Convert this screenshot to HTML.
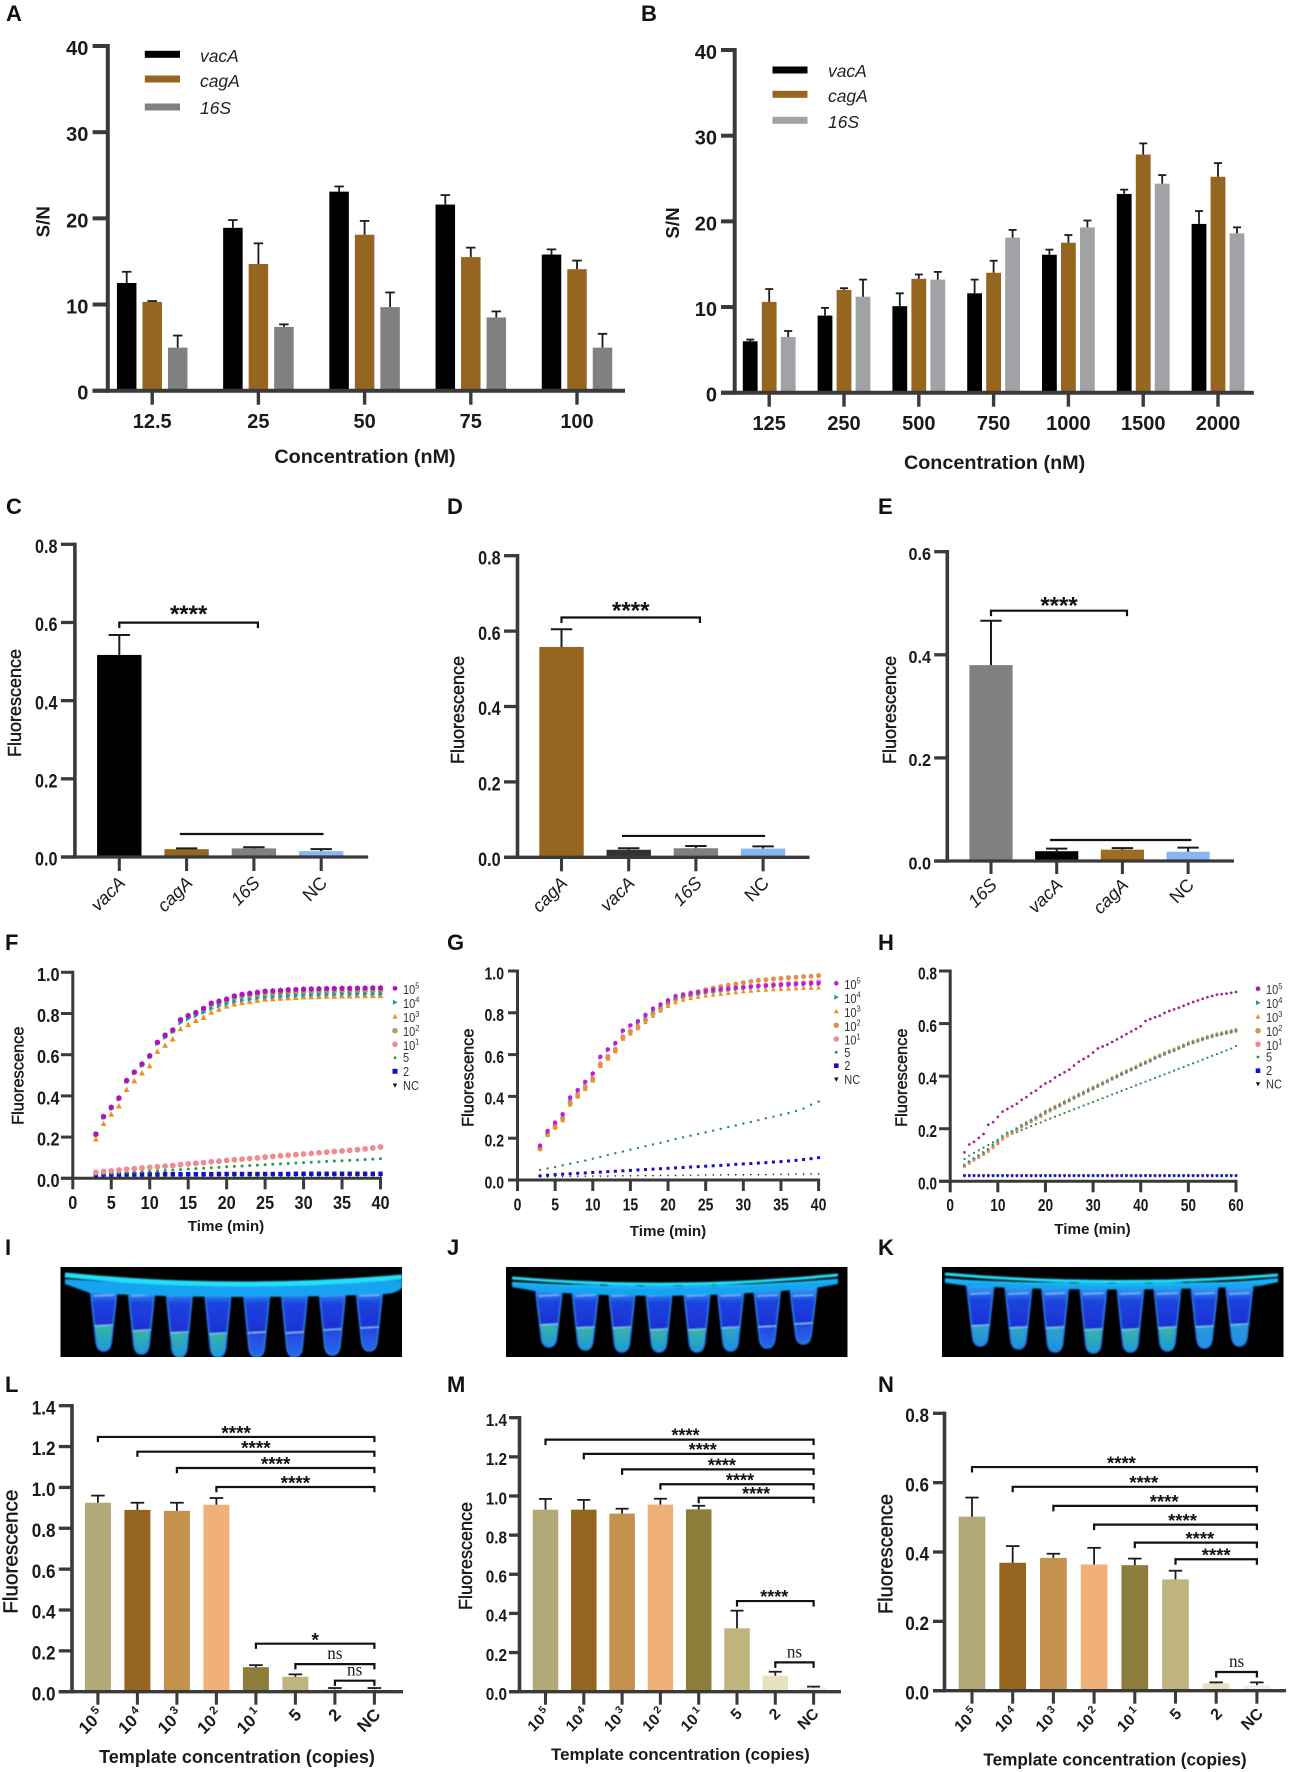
<!DOCTYPE html>
<html lang="en">
<head>
<meta charset="utf-8">
<title>Fluorescence assay figure</title>
<style>
html,body{margin:0;padding:0;background:#fff;}
#figure{display:block;position:absolute;left:0;top:0;font-family:"Liberation Sans",sans-serif;}
.pl{font:bold 22px "Liberation Sans",sans-serif;fill:#111;}
.xt{font-family:"Liberation Sans",sans-serif;font-weight:bold;fill:#1a1a1a;text-anchor:middle;}
.yt{font-family:"Liberation Sans",sans-serif;fill:#1a1a1a;text-anchor:middle;stroke:#1a1a1a;stroke-width:.45;}
.yb{font-family:"Liberation Sans",sans-serif;font-weight:bold;fill:#1a1a1a;text-anchor:middle;}
</style>
</head>
<body>
<svg id="figure" width="1290" height="1772" viewBox="0 0 1290 1772">
  <defs>
    <filter id="soft" x="-5%" y="-5%" width="110%" height="110%"><feGaussianBlur stdDeviation="0.9"/></filter>
  </defs>
  <rect width="1290" height="1772" fill="#fff"/>

  <g>
    <text class="pl" x="6" y="21">A</text>
    <text class="pl" x="641" y="21">B</text>
    <text class="pl" x="6" y="514">C</text>
    <text class="pl" x="447" y="514">D</text>
    <text class="pl" x="878" y="514">E</text>
    <text class="pl" x="5" y="950">F</text>
    <text class="pl" x="447" y="950">G</text>
    <text class="pl" x="878" y="950">H</text>
    <text class="pl" x="5" y="1255">I</text>
    <text class="pl" x="447" y="1255">J</text>
    <text class="pl" x="878" y="1255">K</text>
    <text class="pl" x="5" y="1392">L</text>
    <text class="pl" x="447" y="1392">M</text>
    <text class="pl" x="878" y="1392">N</text>
  </g>

  <g>
    <text class="xt" x="365" y="463" font-size="19.8">Concentration (nM)</text>
    <text class="yb" transform="translate(49.5,221.7) rotate(-90)" font-size="18.8">S/N</text>
    <text class="xt" x="994.6" y="469" font-size="19.8">Concentration (nM)</text>
    <text class="yb" transform="translate(679,223) rotate(-90)" font-size="18.8">S/N</text>
    <text class="yt" transform="translate(21,703) rotate(-90)" font-size="18">Fluorescence</text>
    <text class="yt" transform="translate(464,710) rotate(-90)" font-size="18">Fluorescence</text>
    <text class="yt" transform="translate(896,710) rotate(-90)" font-size="18">Fluorescence</text>
    <text class="xt" x="226" y="1231" font-size="15.2">Time (min)</text>
    <text class="yt" transform="translate(23.5,1075.7) rotate(-90)" font-size="16.4">Fluorescence</text>
    <text class="xt" x="668" y="1236" font-size="15.2">Time (min)</text>
    <text class="yt" transform="translate(473.5,1077.7) rotate(-90)" font-size="16.4">Fluorescence</text>
    <text class="xt" x="1092.5" y="1234" font-size="15.2">Time (min)</text>
    <text class="yt" transform="translate(907,1077.7) rotate(-90)" font-size="16.4">Fluorescence</text>
    <text class="xt" x="237" y="1763" font-size="18">Template concentration (copies)</text>
    <text class="yt" transform="translate(17.5,1551.7) rotate(-90)" font-size="20.7">Fluorescence</text>
    <text class="xt" x="680.4" y="1760" font-size="16.9">Template concentration (copies)</text>
    <text class="yt" transform="translate(472,1556) rotate(-90)" font-size="18">Fluorescence</text>
    <text class="xt" x="1115" y="1765.7" font-size="17.2">Template concentration (copies)</text>
    <text class="yt" transform="translate(892.6,1554) rotate(-90)" font-size="20">Fluorescence</text>
  </g>
  <g id="plots"></g>
</svg>

<script>
/* ---------- Panel A ---------- */
const aCategories = ['12.5','25','50','75','100'];
const aYTicks = ['0','10','20','30','40'];
const aVacA = [12.5,18.9,23.1,21.6,15.8];
const aVacATop = [13.8,19.8,23.7,22.7,16.4];
const aCagA = [10.3,14.7,18.1,15.5,14.1];
const aCagATop = [10.4,17.1,19.7,16.6,15.1];
const a16S = [5.0,7.4,9.7,8.5,5.0];
const a16STop = [6.4,7.7,11.4,9.2,6.6];

/* ---------- Panel B ---------- */
const bCategories = ['125','250','500','750','1000','1500','2000'];
const bYTicks = ['0','10','20','30','40'];
const bVacA = [6.0,9.0,10.1,11.6,16.1,23.2,19.7];
const bVacATop = [6.2,9.9,11.6,13.2,16.7,23.7,21.2];
const bCagA = [10.6,12.0,13.3,14.0,17.5,27.8,25.2];
const bCagATop = [12.1,12.2,13.8,15.4,18.4,29.1,26.8];
const b16S = [6.5,11.2,13.2,18.1,19.3,24.4,18.6];
const b16STop = [7.2,13.2,14.1,19.0,20.1,25.4,19.3];

/* ---------- Panels C, D, E ---------- */
const cCategories = ['vacA','cagA','16S','NC'];
const cYTicks = ['0.0','0.2','0.4','0.6','0.8'];
const cValues = [0.517,0.020,0.022,0.015];
const cTops = [0.568,0.022,0.025,0.020];
const dCategories = ['cagA','vacA','16S','NC'];
const dYTicks = ['0.0','0.2','0.4','0.6','0.8'];
const dValues = [0.558,0.020,0.024,0.023];
const dTops = [0.605,0.024,0.030,0.029];
const eCategories = ['16S','vacA','cagA','NC'];
const eYTicks = ['0.0','0.2','0.4','0.6'];
const eValues = [0.380,0.019,0.022,0.018];
const eTops = [0.466,0.024,0.025,0.026];

/* ---------- Time-course panels shared ---------- */
const seriesNames = ['1e5','1e4','1e3','1e2','1e1','5','2','NC'];
const legendBase = ['10','10','10','10','10','5','2','NC'];
const legendSup = ['5','4','3','2','1','','',''];
const timeYTicksFG = ['0.0','0.2','0.4','0.6','0.8','1.0'];
const timeXTicksFG = [0,5,10,15,20,25,30,35,40];
const timeYTicksH = ['0.0','0.2','0.4','0.6','0.8'];
const timeXTicksH = [0,10,20,30,40,50,60];

/* ---------- Panel F ---------- */
const fTime = [3,4,5,6,7,8,9,10,11,12,13,14,15,16,17,18,19,20,21,22,23,24,25,26,27,28,29,30,31,32,33,34,35,36,37,38,39,40];
const f1e5 = [.215,.300,.345,.390,.475,.515,.555,.595,.660,.695,.720,.770,.790,.805,.825,.850,.860,.870,.885,.893,.898,.903,.908,.910,.912,.915,.916,.918,.919,.920,.921,.921,.922,.922,.923,.923,.924,.924];
const f1e4 = [.212,.297,.340,.385,.470,.512,.548,.590,.655,.685,.712,.755,.775,.790,.805,.825,.838,.848,.858,.865,.870,.875,.878,.881,.884,.886,.888,.889,.890,.891,.892,.893,.894,.894,.895,.895,.896,.896];
const f1e3 = [.190,.265,.310,.350,.430,.472,.510,.545,.615,.645,.675,.725,.745,.765,.780,.805,.820,.835,.845,.852,.858,.863,.868,.870,.873,.875,.877,.879,.880,.881,.882,.883,.884,.884,.885,.885,.886,.886];
const f1e2 = [.213,.298,.342,.388,.472,.515,.552,.592,.658,.690,.716,.765,.785,.800,.818,.842,.852,.862,.875,.882,.887,.892,.895,.897,.899,.901,.902,.904,.905,.906,.907,.908,.908,.909,.909,.910,.910,.911];
const f1e1 = [.028,.033,.036,.040,.044,.047,.050,.053,.056,.059,.062,.066,.070,.073,.076,.080,.083,.087,.090,.093,.096,.099,.103,.106,.109,.112,.115,.118,.121,.124,.127,.130,.133,.136,.139,.143,.147,.152];
const f5 = [.020,.022,.024,.026,.028,.030,.032,.034,.036,.038,.040,.042,.045,.047,.049,.051,.053,.056,.058,.060,.062,.064,.066,.068,.070,.072,.074,.076,.078,.080,.082,.084,.085,.087,.089,.091,.093,.095];
const f2 = [.017,.018,.018,.018,.019,.019,.019,.019,.019,.020,.020,.020,.020,.020,.020,.020,.021,.021,.021,.021,.021,.021,.021,.021,.021,.021,.022,.022,.022,.022,.022,.022,.022,.022,.022,.022,.022,.022];
const fNC = [.012,.012,.012,.013,.013,.013,.013,.013,.013,.013,.013,.014,.014,.014,.014,.014,.014,.014,.014,.014,.014,.014,.015,.015,.015,.015,.015,.015,.015,.015,.015,.015,.015,.015,.015,.015,.015,.015];

/* ---------- Panel G ---------- */
const gTime = [3,4,5,6,7,8,9,10,11,12,13,14,15,16,17,18,19,20,21,22,23,24,25,26,27,28,29,30,31,32,33,34,35,36,37,38,39,40];
const g1e5 = [.165,.235,.275,.315,.395,.430,.470,.510,.590,.625,.655,.715,.740,.760,.790,.820,.840,.860,.880,.888,.895,.900,.905,.910,.913,.916,.920,.922,.925,.928,.930,.932,.934,.936,.938,.940,.941,.942];
const g1e4 = [.160,.228,.270,.308,.385,.425,.465,.505,.585,.620,.650,.710,.735,.752,.780,.810,.832,.852,.870,.880,.886,.892,.898,.902,.906,.910,.914,.918,.920,.924,.926,.928,.930,.932,.934,.935,.936,.937];
const g1e3 = [.150,.215,.250,.285,.360,.400,.435,.475,.545,.580,.615,.675,.700,.725,.755,.785,.810,.832,.850,.862,.870,.876,.882,.886,.890,.894,.898,.902,.905,.908,.910,.912,.914,.915,.917,.918,.919,.920];
const g1e2 = [.148,.218,.252,.290,.365,.400,.440,.478,.550,.585,.620,.680,.708,.732,.765,.795,.820,.845,.865,.880,.890,.900,.910,.918,.925,.932,.938,.944,.950,.955,.958,.962,.965,.968,.970,.973,.975,.978];
const g1e1 = [.155,.222,.258,.296,.372,.410,.448,.486,.556,.592,.626,.686,.712,.735,.766,.796,.820,.843,.862,.874,.883,.890,.897,.902,.908,.913,.918,.922,.926,.930,.933,.936,.938,.940,.942,.944,.946,.948];
const g5 = [.048,.055,.062,.070,.078,.085,.093,.102,.110,.120,.128,.136,.145,.153,.162,.170,.178,.187,.196,.204,.212,.220,.228,.236,.245,.253,.261,.270,.278,.286,.295,.303,.312,.320,.330,.342,.360,.375];
const g2 = [.020,.023,.026,.028,.030,.032,.034,.036,.038,.040,.042,.044,.046,.048,.050,.052,.054,.056,.058,.060,.062,.064,.066,.068,.070,.072,.075,.077,.079,.081,.083,.086,.088,.091,.094,.098,.102,.107];
const gNC = [.015,.015,.016,.016,.017,.017,.017,.018,.018,.018,.019,.019,.019,.020,.020,.020,.021,.021,.021,.022,.022,.022,.023,.023,.023,.024,.024,.024,.025,.025,.025,.026,.026,.026,.027,.027,.028,.028];

/* ---------- Panel H ---------- */
const hTime = [3,4,5,6,7,8,9,10,11,12,13,14,15,16,17,18,19,20,21,22,23,24,25,26,27,28,29,30,31,32,33,34,35,36,37,38,39,40,41,42,43,44,45,46,47,48,49,50,51,52,53,54,55,56,57,58,59,60];
const h1e5 = [.11,.14,.15,.165,.18,.215,.225,.245,.265,.275,.285,.295,.31,.32,.335,.345,.36,.372,.38,.395,.405,.415,.425,.44,.455,.465,.475,.49,.505,.513,.52,.53,.54,.55,.56,.57,.58,.59,.61,.617,.624,.63,.64,.648,.654,.66,.668,.675,.682,.688,.694,.70,.705,.71,.712,.714,.717,.72];
const h1e4 = [.062,.075,.087,.098,.110,.122,.138,.152,.172,.184,.190,.200,.212,.222,.232,.242,.252,.264,.272,.282,.290,.300,.308,.318,.328,.336,.346,.354,.362,.372,.380,.390,.398,.408,.416,.424,.432,.442,.450,.458,.468,.476,.484,.492,.498,.506,.514,.522,.528,.534,.540,.546,.551,.556,.560,.564,.568,.572];
const h1e3 = [.060,.074,.086,.097,.108,.121,.136,.150,.170,.182,.190,.202,.214,.225,.235,.246,.256,.268,.277,.287,.296,.306,.314,.324,.334,.342,.352,.360,.369,.378,.386,.396,.404,.414,.422,.430,.438,.448,.456,.464,.474,.482,.490,.498,.504,.512,.520,.528,.534,.540,.546,.552,.557,.562,.566,.570,.574,.578];
const h1e2 = [.058,.072,.084,.095,.106,.118,.132,.146,.165,.177,.186,.197,.209,.220,.230,.241,.250,.262,.271,.281,.290,.300,.309,.319,.329,.337,.347,.356,.365,.374,.383,.393,.401,.411,.419,.428,.436,.446,.454,.462,.472,.480,.488,.496,.502,.510,.518,.526,.532,.538,.544,.550,.555,.560,.564,.569,.573,.577];
const h1e1 = [.056,.068,.080,.090,.102,.114,.128,.142,.160,.172,.182,.194,.206,.216,.226,.236,.246,.258,.267,.277,.286,.296,.305,.315,.324,.332,.342,.351,.360,.369,.378,.388,.396,.406,.414,.423,.431,.441,.449,.457,.467,.475,.483,.491,.497,.505,.513,.521,.527,.533,.539,.545,.550,.555,.559,.563,.567,.571];
const h5 = [.085,.098,.108,.118,.128,.138,.148,.158,.166,.174,.180,.187,.195,.202,.210,.217,.224,.232,.239,.246,.253,.260,.267,.274,.281,.288,.295,.302,.309,.316,.323,.330,.337,.344,.351,.358,.365,.372,.379,.386,.393,.400,.407,.414,.421,.428,.435,.442,.449,.456,.463,.470,.477,.484,.491,.498,.505,.515];
const h2 = [.022,.022,.022,.022,.022,.022,.022,.022,.022,.022,.022,.022,.022,.022,.022,.022,.022,.022,.022,.022,.022,.022,.022,.022,.022,.022,.022,.022,.022,.022,.022,.022,.022,.022,.022,.022,.022,.022,.022,.022,.022,.022,.022,.022,.022,.022,.022,.022,.022,.022,.022,.022,.022,.022,.022,.022,.022,.022];
const hNC = [.020,.020,.020,.020,.020,.020,.020,.020,.020,.020,.020,.020,.020,.020,.020,.020,.020,.020,.020,.020,.020,.020,.020,.020,.020,.020,.020,.020,.020,.020,.020,.020,.020,.020,.020,.020,.020,.020,.020,.020,.020,.020,.020,.020,.020,.020,.020,.020,.020,.020,.020,.020,.020,.020,.020,.020,.020,.020];

/* ---------- Panels L, M, N ---------- */
const copiesBase = ['10','10','10','10','10','5','2','NC'];
const copiesSup = ['5','4','3','2','1','','',''];
const lYTicks = ['0.0','0.2','0.4','0.6','0.8','1.0','1.2','1.4'];
const lValues = [.925,.89,.885,.915,.12,.073,.012,.012];
const lTops = [.96,.925,.925,.948,.13,.085,.018,.018];
const lBracketFrom = [0,1,2,3,4,5,6];
const lBracketLevel = [1.247,1.175,1.095,1.002,.235,.135,.054];
const lBracketLabel = ['****','****','****','****','*','ns','ns'];
const mYTicks = ['0.0','0.2','0.4','0.6','0.8','1.0','1.2','1.4'];
const mValues = [.93,.93,.91,.956,.932,.324,.082,.02];
const mTops = [.985,.98,.935,.986,.95,.414,.102,.026];
const mBracketFrom = [0,1,2,3,4,5,6];
const mBracketLevel = [1.288,1.215,1.136,1.06,.991,.463,.15];
const mBracketLabel = ['****','****','****','****','****','****','ns'];
const nYTicks = ['0.0','0.2','0.4','0.6','0.8'];
const nValues = [.502,.369,.383,.364,.362,.321,.021,.016];
const nTops = [.557,.417,.395,.412,.381,.346,.024,.024];
const nBracketFrom = [0,1,2,3,4,5,6];
const nBracketLevel = [.645,.588,.533,.479,.427,.379,.054];
const nBracketLabel = ['****','****','****','****','****','****','ns'];

/* ---------- Drawing helpers ---------- */
const NS = 'http://www.w3.org/2000/svg';
const AX = '#3a3a3a';
const BROWN = '#96651f';
const GRAY = '#808080';
const BLUE = '#85b8f2';
const COPY_COLORS = ['#b3a878','#96651f','#c4914f','#f0b178','#8c7d3a','#c0b47e','#e8e2c0','#f0f0e8'];
const plots = document.getElementById('plots');

function mk(tag, attrs, name, parent) {
  const e = document.createElementNS(NS, tag);
  for (const k in attrs) e.setAttribute(k, attrs[k]);
  
  
  parent.appendChild(e);
  return e;
}
function line(p, name, x1, y1, x2, y2, w, c) {
  return mk('line', {x1, y1, x2, y2, 'stroke-width': w, stroke: c}, name, p);
}
function label(p, name, str, x, y, o) {
  o = o || {};
  let tr = 'translate(' + x + ',' + y + ')';
  if (o.rot) tr += ' rotate(' + o.rot + ')';
  if (o.sx) tr += ' scale(' + o.sx + ',1)';
  const t = mk('text', {
    transform: tr,
    'font-size': o.size || 16,
    'font-weight': o.weight || 'normal',
    'font-style': o.style || 'normal',
    'text-anchor': o.anchor || 'start',
    'font-family': o.family || '"Liberation Sans",sans-serif',
    fill: o.fill || '#1a1a1a'
  }, name, p);
  t.appendChild(document.createTextNode(str));
  if (o.sup) {
    const s = document.createElementNS(NS, 'tspan');
    s.setAttribute('dy', -(o.size || 16) * 0.42);
    s.setAttribute('font-size', (o.size || 16) * 0.68);
    if (o.supDx) s.setAttribute('dx', o.supDx);
    s.textContent = o.sup;
    t.appendChild(s);
  }
  return t;
}
function drawYAxis(g, a, ticks) {
  const y = v => a.y0 - v / a.max * (a.y0 - a.yTop);
  line(g, 'y-axis-line', a.x, a.yTop - a.tw / 2, a.x, a.y0 + a.tw / 2, a.lw, AX);
  ticks.forEach((lab, i) => {
    const v = parseFloat(lab);
    line(g, 'y-tick-' + lab, a.left, y(v), a.x, y(v), a.tw, AX);
    label(g, 'y-tick-label-' + lab, lab, a.labelR, y(v) + 2 + 0.35 * a.font, {size: a.font, weight: 'bold', anchor: 'end', sx: a.sx});
  });
  return y;
}
function drawBrackets(g, xf, y, from, to, level, labels, o) {
  from.forEach((f, i) => {
    const yy = y(level[i]);
    const xa = xf(f), xb = xf(to[i]);
    mk('path', {d: 'M' + xa + ' ' + (yy + o.drop) + 'L' + xa + ' ' + yy + 'L' + xb + ' ' + yy + 'L' + xb + ' ' + (yy + o.drop), fill: 'none', stroke: '#111', 'stroke-width': 2.2}, 'significance-bracket-' + i, g);
    const lx = (xa + xb) / 2 + (o.dx ? o.dx[i] : 0);
    if (labels[i] === 'ns') {
      label(g, 'significance-label-' + i, 'ns', lx, yy - 9 + 4, {size: 18, anchor: 'middle', family: '"Liberation Serif",serif', sx: .95});
    } else {
      label(g, 'significance-label-' + i, labels[i], lx, yy - (o.up || 8) + 0.56 * o.star, {size: o.star, weight: 'bold', anchor: 'middle', fill: '#111'});
    }
  });
}
function barPanel(o) {
  const g = mk('g', {}, o.name, plots);
  const a = o.axis;
  const y = v => a.y0 - v / a.max * (a.y0 - a.yTop);
  const xc = i => o.c0 + i * o.step;
  o.series.forEach((s, k) => {
    const off = (k - (o.series.length - 1) / 2) * (o.offset || 0);
    s.values.forEach((v, i) => {
      const cx = xc(i) + off;
      const color = s.colors ? s.colors[i] : s.color;
      mk('rect', {x: cx - o.barW / 2, y: y(v), width: o.barW, height: Math.max(0, a.y0 - y(v)), fill: color}, 'bar-' + s.id + '-' + i, g);
      line(g, 'error-bar-' + s.id + '-' + i, cx, y(v), cx, y(s.tops[i]), o.errW, '#1c1c1c');
      line(g, 'error-cap-' + s.id + '-' + i, cx - o.cap / 2, y(s.tops[i]), cx + o.cap / 2, y(s.tops[i]), o.errW, '#1c1c1c');
    });
  });
  drawYAxis(g, a, o.yTicks);
  line(g, 'x-axis-line', a.left, a.y0, a.right, a.y0, a.tw, AX);
  o.cats.forEach((c, i) => {
    line(g, 'x-tick-' + i, xc(i), a.y0, xc(i), a.y0 + a.tickLen, a.lw * .85, AX);
    const sup = o.catSup ? o.catSup[i] : '';
    if (o.rotate) {
      const italic = o.italicCats && c !== 'NC';
      label(g, 'x-tick-label-' + c + (sup || ''), c, xc(i) + o.labelDx, a.y0 + o.labelDy, {size: o.catFont, anchor: 'end', rot: -45, style: italic ? 'italic' : 'normal', weight: o.catWeight || 'normal', sup: sup, supDx: 2});
    } else {
      label(g, 'x-tick-label-' + c, c, xc(i), o.labelY, {size: a.font, weight: 'bold', anchor: 'middle', sx: a.sx});
    }
  });
  if (o.brackets) drawBrackets(g, xc, y, o.brackets.from, o.brackets.to, o.brackets.level, o.brackets.labels, o.brackets);
  if (o.flat) {
    line(g, 'non-significant-group-line', xc(o.flat.from), y(o.flat.level), xc(o.flat.to), y(o.flat.level), 2.2, '#111');
  }
  if (o.legend) {
    o.legend.forEach((l, i) => {
      mk('rect', {x: o.legendX, y: l.sy - 3.5, width: o.legendW, height: 7, fill: l.color}, 'legend-swatch-' + l.text, g);
      label(g, 'legend-label-' + l.text, l.text, o.legendTx, l.ty + 6.2, {size: 18, style: 'italic', fill: '#222', sx: .97});
    });
  }
}
function marker(p, name, shape, x, y, r, c) {
  if (shape === 'circle') return mk('circle', {cx: x, cy: y, r, fill: c}, name, p);
  if (shape === 'square') return mk('rect', {x: x - r, y: y - r, width: 2 * r, height: 2 * r, fill: c}, name, p);
  let pts;
  if (shape === 'hex') pts = [[0,-r],[r*.87,-r*.5],[r*.87,r*.5],[0,r],[-r*.87,r*.5],[-r*.87,-r*.5]];
  if (shape === 'right') pts = [[r,0],[-r*.8,-r],[-r*.8,r]];
  if (shape === 'up') pts = [[0,-r*1.1],[r,r*.8],[-r,r*.8]];
  if (shape === 'down') pts = [[0,r*1.1],[r,-r*.8],[-r,-r*.8]];
  return mk('polygon', {points: pts.map(q => (x + q[0]).toFixed(2) + ',' + (y + q[1]).toFixed(2)).join(' '), fill: c}, name, p);
}
const SHAPES = ['hex','right','up','circle','circle','circle','square','down'];
function timePanel(o) {
  const g = mk('g', {}, o.name, plots);
  const a = o.axis;
  const x = t => a.x + t / a.xMax * (a.xEnd - a.x);
  const y = drawYAxis(g, a, o.yTicks);
  line(g, 'x-axis-line', a.left, a.y0, a.xEnd + a.lw / 2, a.y0, a.tw, AX);
  o.xTicks.forEach(t => {
    line(g, 'x-tick-' + t, x(t), a.y0, x(t), a.y0 + a.tickLen, a.lw, AX);
    label(g, 'x-tick-label-' + t, String(t), x(t), o.labelY, {size: a.font, weight: 'bold', anchor: 'middle', sx: a.sx});
  });
  for (let k = seriesNames.length - 1; k >= 0; k--) {
    const vals = o.series[k];
    vals.forEach((v, i) => {
      marker(g, 'point-' + seriesNames[k] + '-' + o.time[i], SHAPES[k], x(o.time[i]), y(v), o.radii[k], o.colors[k]);
    });
  }
  legendBase.forEach((b, i) => {
    marker(g, 'legend-marker-' + seriesNames[i], SHAPES[i], o.legendX, o.legendY[i], Math.max(o.legendR[i], 1), o.colors[i]);
    label(g, 'legend-label-' + seriesNames[i], b, o.legendX + 8, o.legendY[i] + 4.5 + (legendSup[i] ? 1 : 0), {size: 12.5, sx: .88, fill: '#333', sup: legendSup[i]});
  });
}

/* ---------- Bar panels ---------- */
barPanel({
  name: 'panel-a-chart',
  axis: {x: 107.8, y0: 390.7, yTop: 46, max: 40, left: 92.6, right: 625, lw: 4, tw: 4, tickLen: 14, labelR: 88.4, font: 20},
  yTicks: aYTicks, cats: aCategories, c0: 152.2, step: 106.2, barW: 19.5, offset: 25.5, errW: 1.8, cap: 9.5, labelY: 428,
  series: [
    {id: 'vaca', values: aVacA, tops: aVacATop, color: '#000'},
    {id: 'caga', values: aCagA, tops: aCagATop, color: BROWN},
    {id: '16s', values: a16S, tops: a16STop, color: GRAY}
  ],
  legendX: 144.8, legendW: 35.2, legendTx: 200,
  legend: [
    {text: 'vacA', color: '#000', sy: 54.3, ty: 55.7},
    {text: 'cagA', color: BROWN, sy: 79, ty: 80.7},
    {text: '16S', color: GRAY, sy: 107, ty: 108}
  ]
});
barPanel({
  name: 'panel-b-chart',
  axis: {x: 734.7, y0: 392.7, yTop: 50, max: 40, left: 721, right: 1253.8, lw: 4, tw: 4, tickLen: 14, labelR: 717, font: 20},
  yTicks: bYTicks, cats: bCategories, c0: 769.2, step: 74.8, barW: 14.8, offset: 19, errW: 1.8, cap: 8, labelY: 430,
  series: [
    {id: 'vaca', values: bVacA, tops: bVacATop, color: '#000'},
    {id: 'caga', values: bCagA, tops: bCagATop, color: BROWN},
    {id: '16s', values: b16S, tops: b16STop, color: '#a2a2a6'}
  ],
  legendX: 772.5, legendW: 35, legendTx: 828,
  legend: [
    {text: 'vacA', color: '#000', sy: 70, ty: 71},
    {text: 'cagA', color: BROWN, sy: 94.3, ty: 96},
    {text: '16S', color: '#a2a2a6', sy: 120.3, ty: 121.7}
  ]
});
barPanel({
  name: 'panel-c-chart',
  axis: {x: 74.9, y0: 857, yTop: 544.3, max: .8, left: 60.9, right: 368.2, lw: 3.6, tw: 3.3, tickLen: 14, labelR: 57.5, font: 19, sx: .85},
  yTicks: cYTicks, cats: cCategories, c0: 119.3, step: 67.3, barW: 44.4, errW: 2, cap: 21.4,
  rotate: true, italicCats: true, catFont: 18, labelDx: 7, labelDy: 27,
  series: [{id: 'c', values: cValues, tops: cTops, colors: ['#000', BROWN, GRAY, BLUE]}],
  brackets: {from: [0], to: [2.06], level: [.5996], labels: ['****'], drop: 5.5, star: 24, up: 14.3},
  flat: {from: .899, to: 3.035, level: .0588}
});
barPanel({
  name: 'panel-d-chart',
  axis: {x: 517.5, y0: 857.3, yTop: 555.7, max: .8, left: 504, right: 809.5, lw: 3.6, tw: 3.3, tickLen: 14, labelR: 500.6, font: 19, sx: .85},
  yTicks: dYTicks, cats: dCategories, c0: 561.5, step: 67.2, barW: 44.4, errW: 2, cap: 21.4,
  rotate: true, italicCats: true, catFont: 18, labelDx: 7, labelDy: 27,
  series: [{id: 'd', values: dValues, tops: dTops, colors: [BROWN, '#333', GRAY, BLUE]}],
  brackets: {from: [0], to: [2.06], level: [.636], labels: ['****'], drop: 5.5, star: 24, up: 12.3},
  flat: {from: .9, to: 3.03, level: .0566}
});
barPanel({
  name: 'panel-e-chart',
  axis: {x: 947.3, y0: 861, yTop: 551.7, max: .6, left: 934.2, right: 1234, lw: 3.6, tw: 3.3, tickLen: 13, labelR: 931, font: 18, sx: .9},
  yTicks: eYTicks, cats: eCategories, c0: 991, step: 65.7, barW: 43.2, errW: 2, cap: 21.4,
  rotate: true, italicCats: true, catFont: 18, labelDx: 7, labelDy: 25,
  series: [{id: 'e', values: eValues, tops: eTops, colors: [GRAY, '#000', '#a06c22', BLUE]}],
  brackets: {from: [0], to: [2.07], level: [.4856], labels: ['****'], drop: 5.5, star: 24, up: 10.7},
  flat: {from: .898, to: 3.05, level: .0407}
});
barPanel({
  name: 'panel-l-chart',
  axis: {x: 72, y0: 1691.7, yTop: 1405.7, max: 1.4, left: 58.8, right: 403, lw: 3.6, tw: 3.3, tickLen: 13, labelR: 55.5, font: 19, sx: .9},
  yTicks: lYTicks, cats: copiesBase, catSup: copiesSup, c0: 97.9, step: 39.5, barW: 26, errW: 1.8, cap: 13.6,
  rotate: true, catFont: 17, catWeight: 'bold', labelDx: 7, labelDy: 24,
  series: [{id: 'l', values: lValues, tops: lTops, colors: COPY_COLORS}],
  brackets: {from: lBracketFrom, to: [7,7,7,7,7,7,7], level: lBracketLevel, labels: lBracketLabel, drop: 5.2, star: 19}
});
barPanel({
  name: 'panel-m-chart',
  axis: {x: 519.5, y0: 1691.7, yTop: 1417.7, max: 1.4, left: 509, right: 841, lw: 3.6, tw: 3.3, tickLen: 13, labelR: 507, font: 18, sx: .85},
  yTicks: mYTicks, cats: copiesBase, catSup: copiesSup, c0: 545.5, step: 38.3, barW: 25.5, errW: 1.8, cap: 13,
  rotate: true, catFont: 15.5, catWeight: 'bold', labelDx: 6, labelDy: 23,
  series: [{id: 'm', values: mValues, tops: mTops, colors: COPY_COLORS}],
  brackets: {from: mBracketFrom, to: [7,7,7,7,7,7,7], level: mBracketLevel, labels: mBracketLabel, drop: 5.5, star: 18, dx: [6,4,4,3,0,-1,0]}
});
barPanel({
  name: 'panel-n-chart',
  axis: {x: 944.5, y0: 1690.7, yTop: 1413.3, max: .8, left: 933, right: 1286, lw: 3.6, tw: 3.3, tickLen: 13, labelR: 929, font: 19, sx: .9},
  yTicks: nYTicks, cats: copiesBase, catSup: copiesSup, c0: 972, step: 40.7, barW: 26.7, errW: 1.8, cap: 13.5,
  rotate: true, catFont: 16, catWeight: 'bold', labelDx: 7, labelDy: 24,
  series: [{id: 'n', values: nValues, tops: nTops, colors: COPY_COLORS}],
  brackets: {from: nBracketFrom, to: [7,7,7,7,7,7,7], level: nBracketLevel, labels: nBracketLabel, drop: 5.5, star: 18.5, dx: [7,9,9,7,4,0,0]}
});

/* ---------- Time-course panels ---------- */
timePanel({
  name: 'panel-f-chart', time: fTime, yTicks: timeYTicksFG, xTicks: timeXTicksFG, labelY: 1209,
  axis: {x: 72.8, xEnd: 380.5, xMax: 40, y0: 1178.3, yTop: 972.3, max: 1, left: 60.9, lw: 3, tw: 3, tickLen: 11, labelR: 59.6, font: 18.5, sx: .88},
  series: [f1e5, f1e4, f1e3, f1e2, f1e1, f5, f2, fNC],
  colors: ['#b010c0','#1a9aa8','#f09020','#b59a5a','#f08a90','#2a9a4a','#1010c8','#111'],
  radii: [2.9,2.7,2.9,2.7,2.9,1.5,2.2,1.8],
  legendX: 395, legendY: [988.3,1002.3,1016.7,1030.7,1044.3,1057.7,1071.3,1085.3], legendR: [2.6,2.6,2.6,2.8,2.8,1.4,2.5,2.2]
});
timePanel({
  name: 'panel-g-chart', time: gTime, yTicks: timeYTicksFG, xTicks: timeXTicksFG, labelY: 1210.7,
  axis: {x: 517.5, xEnd: 818.6, xMax: 40, y0: 1180, yTop: 971, max: 1, left: 508, lw: 3, tw: 3, tickLen: 11, labelR: 504, font: 18, sx: .78},
  series: [g1e5, g1e4, g1e3, g1e2, g1e1, g5, g2, gNC],
  colors: ['#c818d8','#1a9aa8','#f09020','#d9954f','#f08a90','#2a8a4a','#1010c8','#111'],
  radii: [2.4,2.3,2.4,2.5,2.5,1.2,1.5,1],
  legendX: 836.3, legendY: [983.3,997.3,1011.3,1025.3,1039,1052.3,1065.7,1079.3], legendR: [2.5,2.5,2.5,2.8,2.8,1.4,2.3,2.2]
});
timePanel({
  name: 'panel-h-chart', time: hTime, yTicks: timeYTicksH, xTicks: timeXTicksH, labelY: 1211,
  axis: {x: 950.2, xEnd: 1236, xMax: 60, y0: 1181.3, yTop: 971, max: .8, left: 939, lw: 3, tw: 3, tickLen: 11, labelR: 937, font: 18, sx: .76},
  series: [h1e5, h1e4, h1e3, h1e2, h1e1, h5, h2, hNC],
  colors: ['#a02090','#1a9aa8','#f09020','#d9954f','#f08a90','#2a8a4a','#1010c8','#111'],
  radii: [1.5,1.7,1.7,1.6,1.6,1.1,1.3,1.6],
  legendX: 1258, legendY: [988.7,1002.7,1016.7,1030.7,1044.3,1057,1070.7,1084], legendR: [2.5,2.5,2.5,2.8,2.8,1.4,2.3,2.2]
});

/* ---------- Tube photographs ---------- */
function photo(o) {
  const g = mk('g', {}, o.name, plots);
  mk('rect', {x: o.x, y: 1267, width: o.w, height: 90, fill: '#000'}, 'photo-backdrop', g);
  const clipId = o.name + '-clip';
  const defs = document.querySelector('defs');
  const clip = document.createElementNS(NS, 'clipPath');
  clip.setAttribute('id', clipId);
  const cr = document.createElementNS(NS, 'rect');
  cr.setAttribute('x', o.x);
  cr.setAttribute('y', 1267);
  cr.setAttribute('width', o.w);
  cr.setAttribute('height', 90);
  clip.appendChild(cr);
  defs.appendChild(clip);
  const clipper = mk('g', {'clip-path': 'url(#' + clipId + ')'}, 'photo-crop', g);
  const inner = mk('g', {filter: 'url(#soft)'}, 'tube-strip', clipper);
  o.cx.forEach((cx, i) => {
    const gid = o.name + '-grad-' + i;
    const lg = document.createElementNS(NS, 'linearGradient');
    lg.setAttribute('id', gid);
    lg.setAttribute('x1', 0); lg.setAttribute('y1', 0); lg.setAttribute('x2', 0); lg.setAttribute('y2', 1);
    const top = o.top, bot = o.bot[i], men = o.men[i];
    const f = (men - top) / (bot - top);
    const base = o.green[i];
    [[0, '#2ab8f4'], [.14, '#2a80ee'], [.26, '#1c44de'], [f - .02, '#1a30d4'], [f + .01, base[0]], [1, base[1]]].forEach(s => {
      const st = document.createElementNS(NS, 'stop');
      st.setAttribute('offset', s[0]);
      st.setAttribute('stop-color', s[1]);
      lg.appendChild(st);
    });
    defs.appendChild(lg);
    mk('path', {d: 'M' + (cx - 13.8) + ' ' + top + 'L' + (cx - 7.5) + ' ' + (bot - 8) + 'Q' + (cx - 6) + ' ' + bot + ' ' + cx + ' ' + bot + 'Q' + (cx + 6) + ' ' + bot + ' ' + (cx + 7.5) + ' ' + (bot - 8) + 'L' + (cx + 13.8) + ' ' + top + 'Z', fill: 'url(#' + gid + ')', stroke: '#2a7cec', 'stroke-width': 1.6}, 'tube-' + (i + 1), inner);
    line(inner, 'tube-meniscus-' + (i + 1), cx - 9, men, cx + 9, men - 1, 1.1, '#8fe0f0');
    line(inner, 'tube-upper-line-' + (i + 1), cx - 10, top + 11, cx + 10, top + 10, .9, '#8fd0f4');
  });
  mk('path', {d: o.band, fill: '#12a4f2'}, 'strip-band', inner);
  mk('path', {d: o.curve, fill: 'none', stroke: '#22e0fa', 'stroke-width': o.curveW}, 'strip-edge', inner);
  if (o.curve2) mk('path', {d: o.curve2, fill: 'none', stroke: '#18b8f0', 'stroke-width': 2.6}, 'strip-edge-lower', inner);
}
const G_STRONG = ['#38b2a8', '#1c9ad8'];
const G_MID = ['#2ea4c8', '#1d8fe0'];
const G_NONE = ['#2448e0', '#2668ea'];
const G_PALE = ['#2a98d8', '#2090e8'];
photo({
  name: 'panel-i-photo', x: 60.5, w: 341.5, top: 1285,
  cx: [103.7,141.5,179.4,218,256.7,294.5,332.4,369.4],
  bot: [1351,1354,1357,1357,1357,1357,1355,1351],
  men: [1326,1331,1333,1334,1333,1333,1330,1328],
  green: [G_STRONG,G_STRONG,G_STRONG,G_STRONG,G_NONE,G_NONE,G_NONE,G_NONE],
  band: 'M65 1279Q233 1290 402 1280L402 1288Q395 1294 385 1294Q233 1300.5 90 1293L65 1284Z',
  curve: 'M65 1275Q233 1292 402 1277', curveW: 5
});
photo({
  name: 'panel-j-photo', x: 506, w: 341.5, top: 1285,
  cx: [549,585.3,622,659,697,730.6,767.2,803.4],
  bot: [1347,1350,1352,1352,1352,1351,1348,1344],
  men: [1325,1328,1328,1330,1330,1328,1327,1324],
  green: [G_STRONG,G_STRONG,G_STRONG,G_STRONG,G_STRONG,G_MID,G_NONE,G_NONE],
  band: 'M512 1282Q670 1296 838 1280L838 1284L815 1288Q670 1302 535 1291L512 1287Z',
  curve: 'M512 1278Q675 1291.5 838 1275', curve2: 'M512 1283Q675 1293 838 1280', curveW: 3
});
photo({
  name: 'panel-k-photo', x: 942, w: 341.5, top: 1283,
  cx: [980.3,1018.5,1055.1,1093.4,1130.4,1167.4,1204.5,1239.4],
  bot: [1346,1349,1352,1353,1352,1351,1348,1346],
  men: [1326,1328,1328,1330,1330,1328,1327,1325],
  green: [G_MID,G_MID,G_MID,G_STRONG,G_STRONG,G_STRONG,G_PALE,G_PALE],
  band: 'M945 1278Q1110 1294 1278 1278L1278 1282L1260 1286Q1110 1293 968 1286L945 1283Z',
  curve: 'M945 1274Q1110 1288.5 1278 1275', curve2: 'M945 1280Q1110 1289 1278 1281', curveW: 3
});
</script>
</body>
</html>
